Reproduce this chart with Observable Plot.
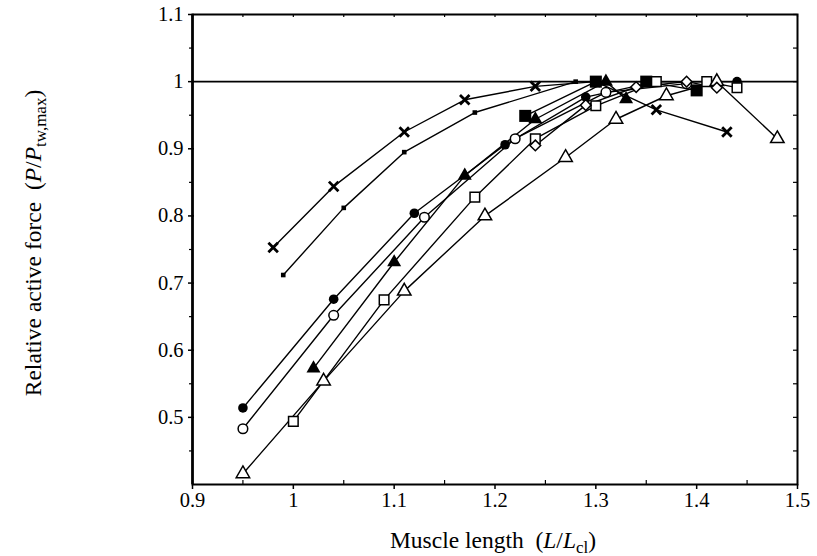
<!DOCTYPE html>
<html><head><meta charset="utf-8">
<script src="https://cdn.jsdelivr.net/npm/d3@7"></script>
<script src="https://cdn.jsdelivr.net/npm/@observablehq/plot@0.6"></script>
<style>body{margin:0;background:#fff}</style>
</head><body><div id="chart"></div>
<script>
// Series data (x = L/Lcl, y = P/Ptw,max)
const crossX = [0.98, 1.04, 1.11, 1.17, 1.24, 1.30, 1.36, 1.43];
const crossY = [0.753, 0.844, 0.925, 0.973, 0.993, 1.0, 0.958, 0.925];
const smallSqX = [0.99, 1.05, 1.11, 1.18, 1.28];
const smallSqY = [0.712, 0.812, 0.895, 0.954, 1.0];
const fCircX = [0.95, 1.04, 1.12, 1.21, 1.29, 1.36, 1.44];
const fCircY = [0.514, 0.676, 0.804, 0.906, 0.977, 1.0, 1.0];
const oCircX = [0.95, 1.04, 1.13, 1.22, 1.31, 1.39];
const oCircY = [0.483, 0.652, 0.798, 0.915, 0.984, 0.997];
const fTriX = [1.02, 1.10, 1.17, 1.24, 1.31, 1.33];
const fTriY = [0.573, 0.731, 0.86, 0.944, 1.0, 0.974];
const oSqX = [1.00, 1.09, 1.18, 1.24, 1.30, 1.36, 1.41, 1.44];
const oSqY = [0.494, 0.675, 0.828, 0.915, 0.964, 1.0, 1.0, 0.991];
const oTriX = [0.95, 1.03, 1.11, 1.19, 1.27, 1.32, 1.37, 1.42, 1.48];
const oTriY = [0.416, 0.554, 0.688, 0.80, 0.887, 0.944, 0.979, 1.0, 0.915];
const bigSqX = [1.23, 1.30, 1.35, 1.40];
const bigSqY = [0.949, 1.0, 1.0, 0.987];
const diaX = [1.24, 1.29, 1.34, 1.39, 1.42];
const diaY = [0.905, 0.965, 0.992, 1.0, 0.991];

const xMajor = [0.9, 1.0, 1.1, 1.2, 1.3, 1.4, 1.5];
const xMinor = [0.95, 1.05, 1.15, 1.25, 1.35, 1.45];
const yMajor = [0.5, 0.6, 0.7, 0.8, 0.9, 1.0, 1.1];
const yMinor = [0.45, 0.55, 0.65, 0.75, 0.85, 0.95, 1.05];
const xLabels = ["0.9", "1", "1.1", "1.2", "1.3", "1.4", "1.5"];
const yLabels = ["0.5", "0.6", "0.7", "0.8", "0.9", "1", "1.1"];

const zip = (xs, ys) => xs.map((x, i) => ({x, y: ys[i]}));
// draw order matters for overlaps
const series = [
  {d: zip(crossX, crossY), symbol: "times", fill: "none", stroke: "black", r: 4.4, sw: 2.8},
  {d: zip(smallSqX, smallSqY), symbol: "square", fill: "black", stroke: "none", r: 2.6, sw: 0},
  {d: zip(bigSqX, bigSqY), symbol: "square", fill: "black", stroke: "none", r: 6.8, sw: 0},
  {d: zip(fCircX, fCircY), symbol: "circle", fill: "black", stroke: "none", r: 4.8, sw: 0},
  {d: zip(fTriX, fTriY), symbol: "triangle", fill: "black", stroke: "none", r: 5.2, sw: 0},
  {d: zip(oCircX, oCircY), symbol: "circle", fill: "white", stroke: "black", r: 4.8, sw: 1.5},
  {d: zip(oSqX, oSqY), symbol: "square", fill: "white", stroke: "black", r: 5.4, sw: 1.5},
  {d: zip(oTriX, oTriY), symbol: "triangle", fill: "white", stroke: "black", r: 5.0, sw: 1.5},
  {d: zip(diaX, diaY), symbol: "diamond2", fill: "white", stroke: "black", r: 4.8, sw: 1.5}
];

const W = 817, H = 556, mt = 14, mb = 72, ml = 192, mr = 20;
const innerH = H - mt - mb, innerW = W - ml - mr;
const FONT = "Liberation Serif";
const TICKFS = 20.5;

const marks = [
  Plot.ruleY([1.0], {stroke: "black", strokeWidth: 1.6}),
  ...series.map(s => Plot.line(s.d, {x: "x", y: "y", stroke: "black", strokeWidth: 1.4})),
  ...series.map(s => Plot.dot(s.d, {x: "x", y: "y", symbol: () => s.symbol, r: s.r, fill: s.fill, stroke: s.stroke, strokeWidth: s.sw})),
  Plot.frame({stroke: "black", strokeWidth: 2}),
  Plot.ruleX([0.9], {stroke: "black", strokeWidth: 2.6}),
  // bottom: major ticks outward, minor ticks inward
  Plot.ruleX(xMajor, {x: d => d, insetTop: innerH, insetBottom: -5, stroke: "black", strokeWidth: 1.5}),
  Plot.ruleX(xMinor, {x: d => d, insetTop: innerH - 4, stroke: "black", strokeWidth: 1.2}),
  Plot.text(xMajor, {x: d => d, frameAnchor: "bottom", text: (d, i) => xLabels[i], dy: 22,
    fontSize: TICKFS, fontFamily: FONT, fill: "black"}),
  // top ticks inward
  Plot.ruleX(xMinor.concat(xMajor), {x: d => d, insetBottom: innerH - 3, stroke: "black", strokeWidth: 1.2}),
  // left: ticks outward
  Plot.ruleY(yMajor, {y: d => d, insetRight: innerW - 2, insetLeft: -4, stroke: "black", strokeWidth: 1.5}),
  Plot.ruleY(yMinor, {y: d => d, insetRight: innerW, insetLeft: -3, stroke: "black", strokeWidth: 1.2}),
  Plot.text(yMajor, {y: d => d, frameAnchor: "left", text: (d, i) => yLabels[i], dx: -9, textAnchor: "end",
    fontSize: TICKFS, fontFamily: FONT, fill: "black"}),
  // right ticks inward
  Plot.ruleY(yMinor.concat(yMajor), {y: d => d, insetLeft: innerW - 4, stroke: "black", strokeWidth: 1.2})
];

const chart = Plot.plot({
  width: W, height: H,
  marginTop: mt, marginBottom: mb, marginLeft: ml, marginRight: mr,
  x: {domain: [0.9, 1.5], axis: null},
  y: {domain: [0.4, 1.1], axis: null},
  style: {fontFamily: FONT, fontSize: "20px", color: "black", background: "white"},
  marks
});

const svg = d3.select(chart);
// x axis title
const xt = svg.append("text")
  .attr("x", 493).attr("y", 548)
  .attr("text-anchor", "middle")
  .attr("font-family", FONT).attr("font-size", 23.5).attr("fill", "black");
xt.append("tspan").text("Muscle length  (");
xt.append("tspan").attr("font-style", "italic").text("L");
xt.append("tspan").text("/");
xt.append("tspan").attr("font-style", "italic").text("L");
xt.append("tspan").attr("font-size", 17).attr("dy", 5).text("cl");
xt.append("tspan").attr("dy", -5).text(")");

// y axis title
const yt = svg.append("text")
  .attr("transform", "translate(41,243) rotate(-90)")
  .attr("text-anchor", "middle")
  .attr("font-family", FONT).attr("font-size", 23.5).attr("fill", "black");
yt.append("tspan").text("Relative active force  (");
yt.append("tspan").attr("font-style", "italic").text("P");
yt.append("tspan").text("/");
yt.append("tspan").attr("font-style", "italic").text("P");
yt.append("tspan").attr("font-size", 17).attr("dy", 5).text("tw,max");
yt.append("tspan").attr("dy", -5).text(")");

document.getElementById("chart").appendChild(chart);
</script>
</body></html>
